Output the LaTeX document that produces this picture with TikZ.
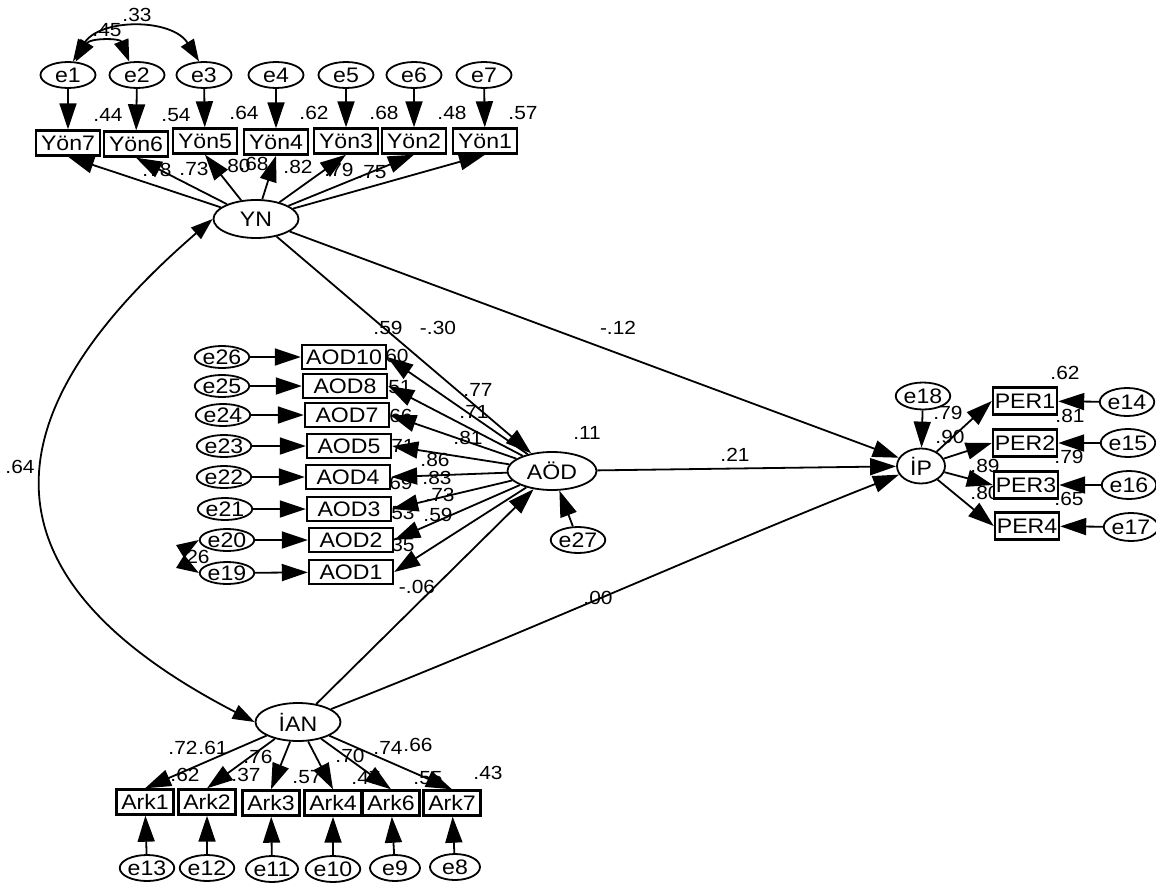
\documentclass[tikz,border=0pt]{standalone}
\usepackage{fontspec}
\setmainfont[FakeStretch=1.1]{Liberation Sans}
\usetikzlibrary{shapes.geometric,arrows.meta}

\begin{document}
\begin{tikzpicture}[x=1pt,y=-1pt,
	err/.style={ellipse,draw,line width=1.8pt,fill=white,inner sep=0,minimum width=55pt,minimum height=26pt,font=\fontsize{21}{23}\selectfont},
	obs/.style={rectangle,draw,line width=2.4pt,fill=white,inner sep=0,minimum width=64pt,minimum height=25pt,font=\fontsize{21}{23}\selectfont},
	lat/.style={ellipse,draw,line width=1.8pt,fill=white,inner sep=0,minimum width=85pt,minimum height=38pt,font=\fontsize{21}{23}\selectfont},
	lab/.style={inner sep=0,font=\fontsize{19}{21}\selectfont},
	arr/.style={-{Triangle[length=26pt,width=17pt]},line width=1.8pt},
	cov/.style={{Triangle[length=22pt,width=15pt]}-{Triangle[length=22pt,width=15pt]},line width=1.8pt}]
	\useasboundingbox (0,0) rectangle (1156,894);

	% estimates
	\node[lab] (c12) at (107,30) {.45};
	\node[lab] (c13) at (137,15) {.33};
	\node[lab] (r7) at (108,115) {.44};
	\node[lab] (r6) at (176,115) {.54};
	\node[lab] (r5) at (244,113) {.64};
	\node[lab] (r4) at (314,113) {.62};
	\node[lab] (r3) at (384,113) {.68};
	\node[lab] (r2) at (452,113) {.48};
	\node[lab] (r1) at (523,113) {.57};
	\node[lab] (w7) at (157,170) {.78};
	\node[lab] (w6) at (194,169) {.73};
	\node[lab] (w5) at (236,166) {.80};
	\node[lab] (w4) at (254,164) {.68};
	\node[lab] (w3) at (298,167) {.82};
	\node[lab] (w2) at (339,170) {.79};
	\node[lab] (w1) at (372,172) {.75};
	\node[lab] (ynaod) at (388,328) {.59};
	\node[lab] (ynaodb) at (438,328) {-.30};
	\node[lab] (ynip) at (618,328) {-.12};
	\node[lab] (raod) at (587,433) {.11};
	\node[lab] (aodip) at (735,455) {.21};
	\node[lab] (ianip) at (598,598) {.00};
	\node[lab] (ynian) at (20,467) {.64};
	\node[lab] (q10) at (394,356) {.60};
	\node[lab] (q8) at (397,387) {.51};
	\node[lab] (q7) at (398,416) {.66};
	\node[lab] (q5) at (400,446) {.71};
	\node[lab] (q4) at (398,483) {.69};
	\node[lab] (q3) at (400,513) {.53};
	\node[lab] (q2) at (400,545) {.35};
	\node[lab] (ianaod) at (417,587) {-.06};
	\node[lab] (v10) at (478,390) {.77};
	\node[lab] (v8) at (474,412) {.71};
	\node[lab] (v7) at (468,438) {.81};
	\node[lab] (v5) at (435,460) {.86};
	\node[lab] (v4) at (437,478) {.83};
	\node[lab] (v3) at (440,495) {.73};
	\node[lab] (v2) at (438,515) {.59};
	\node[lab] (c1920) at (195,557) {.26};
	\node[lab] (p1) at (1065,373) {.62};
	\node[lab] (u1) at (948,413) {.79};
	\node[lab] (u2) at (950,437) {.90};
	\node[lab] (p2) at (1070,416) {.81};
	\node[lab] (p3) at (1069,457) {.79};
	\node[lab] (u3) at (985,466) {.89};
	\node[lab] (u4) at (985,493) {.80};
	\node[lab] (p4) at (1069,499) {.65};
	\node[lab] (k1) at (183,748) {.72};
	\node[lab] (k2) at (213,748) {.61};
	\node[lab] (k3) at (258,757) {.76};
	\node[lab] (s1) at (185,775) {.62};
	\node[lab] (s2) at (246,775) {.37};
	\node[lab] (s3) at (307,777) {.57};
	\node[lab] (k4) at (350,756) {.70};
	\node[lab] (k6) at (388,748) {.74};
	\node[lab] (k7) at (418,745) {.66};
	\node[lab] (s6) at (366,778) {.47};
	\node[lab] (s7) at (428,778) {.55};
	\node[lab] (s8) at (488,773) {.43};

	% YN
	\node[err] (e1) at (68,75) {e1};
	\node[err] (e2) at (137,75) {e2};
	\node[err] (e3) at (204,75) {e3};
	\node[err] (e4) at (276,75) {e4};
	\node[err] (e5) at (346,75) {e5};
	\node[err] (e6) at (414,75) {e6};
	\node[err] (e7) at (484,75) {e7};
	\node[obs] (yon7) at (68,143) {Yön7};
	\node[obs] (yon6) at (136,144) {Yön6};
	\node[obs] (yon5) at (205,141) {Yön5};
	\node[obs] (yon4) at (276,142) {Yön4};
	\node[obs] (yon3) at (346,141) {Yön3};
	\node[obs] (yon2) at (414,141) {Yön2};
	\node[obs] (yon1) at (485,141) {Yön1};
	\node[lat] (yn) at (256,219) {YN};

	% AÖD
	\node[err,minimum width=53pt,minimum height=22pt] (e26) at (222,357) {e26};
	\node[err,minimum width=53pt,minimum height=22pt] (e25) at (222,386) {e25};
	\node[err,minimum width=53pt,minimum height=22pt] (e24) at (223,415) {e24};
	\node[err,minimum width=53pt,minimum height=22pt] (e23) at (224,446) {e23};
	\node[err,minimum width=53pt,minimum height=22pt] (e22) at (224,477) {e22};
	\node[err,minimum width=53pt,minimum height=22pt] (e21) at (225,509) {e21};
	\node[err,minimum width=53pt,minimum height=22pt] (e20) at (227,540) {e20};
	\node[err,minimum width=53pt,minimum height=22pt] (e19) at (227,573) {e19};
	\node[obs,minimum width=84pt,minimum height=24pt] (aod10) at (344,357) {AOD10};
	\node[obs,minimum width=84pt,minimum height=24pt] (aod8) at (345,386) {AOD8};
	\node[obs,minimum width=84pt,minimum height=24pt] (aod7) at (347,415) {AOD7};
	\node[obs,minimum width=84pt,minimum height=24pt] (aod5) at (349,446) {AOD5};
	\node[obs,minimum width=84pt,minimum height=24pt] (aod4) at (348,477) {AOD4};
	\node[obs,minimum width=84pt,minimum height=24pt] (aod3) at (349,509) {AOD3};
	\node[obs,minimum width=84pt,minimum height=24pt] (aod2) at (351,540) {AOD2};
	\node[obs,minimum width=84pt,minimum height=24pt] (aod1) at (351,572) {AOD1};
	\node[lat,minimum width=89pt] (aodlat) at (552,471) {AÖD};
	\node[err,minimum width=50pt] (e27) at (578,540) {e27};

	% İP
	\node[lat,minimum width=48pt,minimum height=35pt] (ip) at (921,466) {İP};
	\node[err,minimum width=50pt,minimum height=27pt] (e18) at (923,396) {e18};
	\node[obs,minimum height=27pt] (per1) at (1025,401) {PER1};
	\node[obs,minimum height=27pt] (per2) at (1025,443) {PER2};
	\node[obs,minimum height=27pt] (per3) at (1026,485) {PER3};
	\node[obs,minimum height=27pt] (per4) at (1027,526) {PER4};
	\node[err,minimum width=48pt,minimum height=28pt] (e14) at (1127,402) {e14};
	\node[err,minimum width=48pt,minimum height=28pt] (e15) at (1128,443) {e15};
	\node[err,minimum width=48pt,minimum height=28pt] (e16) at (1129,485) {e16};
	\node[err,minimum width=48pt,minimum height=28pt] (e17) at (1131,527) {e17};

	% İAN
	\node[lat] (ian) at (298,722) {İAN};
	\node[obs,minimum width=57pt] (ark1) at (145,802) {Ark1};
	\node[obs,minimum width=57pt] (ark2) at (207,802) {Ark2};
	\node[obs,minimum width=57pt] (ark3) at (271,803) {Ark3};
	\node[obs,minimum width=57pt] (ark4) at (333,803) {Ark4};
	\node[obs,minimum width=57pt] (ark6) at (391,803) {Ark6};
	\node[obs,minimum width=57pt] (ark7) at (452,803) {Ark7};
	\node[err,minimum width=50pt] (e13) at (147,868) {e13};
	\node[err,minimum width=50pt] (e12) at (207,868) {e12};
	\node[err,minimum width=50pt] (e11) at (272,869) {e11};
	\node[err,minimum width=50pt] (e10) at (333,869) {e10};
	\node[err,minimum width=50pt] (e9) at (395,868) {e9};
	\node[err,minimum width=50pt] (e8) at (455,867) {e8};

	% paths
	\draw[arr] (e1) -- (yon7);
	\draw[arr] (e2) -- (yon6);
	\draw[arr] (e3) -- (yon5);
	\draw[arr] (e4) -- (yon4);
	\draw[arr] (e5) -- (yon3);
	\draw[arr] (e6) -- (yon2);
	\draw[arr] (e7) -- (yon1);
	\draw[arr] (yn) -- (yon7.south);
	\draw[arr] (yn) -- (yon6.south);
	\draw[arr] (yn) -- (yon5.south);
	\draw[arr] (yn) -- (yon4.south);
	\draw[arr] (yn) -- (yon3.south);
	\draw[arr] (yn) -- (yon2.south);
	\draw[arr] (yn) -- (yon1.south);
	\draw[cov] (e1.60) .. controls (90,38) and (120,38) .. (e2.120);
	\draw[cov] (e1.70) .. controls (100,18) and (172,18) .. (e3.110);

	\draw[arr] (e26) -- (aod10);
	\draw[arr] (e25) -- (aod8);
	\draw[arr] (e24) -- (aod7);
	\draw[arr] (e23) -- (aod5);
	\draw[arr] (e22) -- (aod4);
	\draw[arr] (e21) -- (aod3);
	\draw[arr] (e20) -- (aod2);
	\draw[arr] (e19) -- (aod1);
	\draw[arr] (aodlat) -- (aod10.east);
	\draw[arr] (aodlat) -- (aod8.east);
	\draw[arr] (aodlat) -- (aod7.east);
	\draw[arr] (aodlat) -- (aod5.east);
	\draw[arr] (aodlat) -- (aod4.east);
	\draw[arr] (aodlat) -- (aod3.east);
	\draw[arr] (aodlat) -- (aod2.east);
	\draw[arr] (aodlat) -- (aod1.east);
	\draw[cov] (e20.west) .. controls (186,548) and (186,565) .. (e19.west);
	\draw[arr] (e27) -- (aodlat);

	\draw[arr] (e18) -- (ip);
	\draw[arr] (ip) -- (per1.west);
	\draw[arr] (ip) -- (per2.west);
	\draw[arr] (ip) -- (per3.west);
	\draw[arr] (ip) -- (per4.west);
	\draw[arr] (e14) -- (per1);
	\draw[arr] (e15) -- (per2);
	\draw[arr] (e16) -- (per3);
	\draw[arr] (e17) -- (per4);

	\draw[arr] (ian) -- (ark1.north);
	\draw[arr] (ian) -- (ark2.north);
	\draw[arr] (ian) -- (ark3.north);
	\draw[arr] (ian) -- (ark4.north);
	\draw[arr] (ian) -- (ark6.north);
	\draw[arr] (ian) -- (ark7.north);
	\draw[arr] (e13) -- (ark1);
	\draw[arr] (e12) -- (ark2);
	\draw[arr] (e11) -- (ark3);
	\draw[arr] (e10) -- (ark4);
	\draw[arr] (e9) -- (ark6);
	\draw[arr] (e8) -- (ark7);

	% structural paths
	\draw[arr] (yn) -- (aodlat);
	\draw[arr] (yn) -- (ip);
	\draw[arr] (aodlat) -- (ip);
	\draw[arr] (ian) -- (aodlat);
	\draw[arr] (ian) .. controls (520,635) and (720,545) .. (ip);
	\draw[cov] (yn.west) .. controls (-20,420) and (-20,580) .. (ian.west);
\end{tikzpicture}
\end{document}
